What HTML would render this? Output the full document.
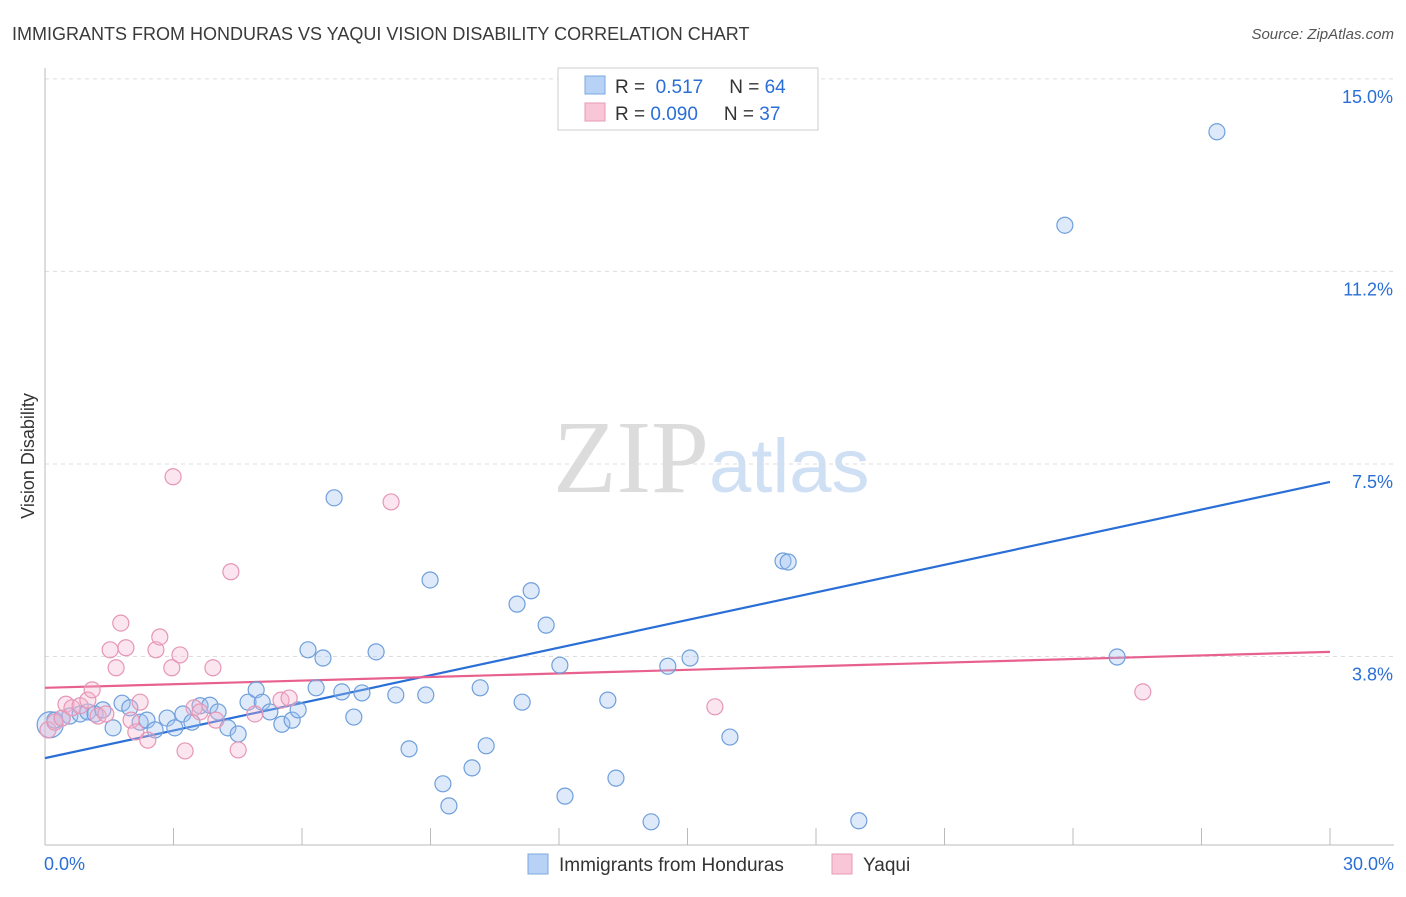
<!DOCTYPE html>
<html><head><meta charset="utf-8"><style>
body{margin:0;background:#fff;font-family:"Liberation Sans",sans-serif}
svg text{font-family:"Liberation Sans",sans-serif}
</style></head><body>
<svg id="chart" width="1406" height="892" viewBox="0 0 1406 892" xmlns="http://www.w3.org/2000/svg">
<text x="12" y="40" font-size="18" fill="#3a3a3a">IMMIGRANTS FROM HONDURAS VS YAQUI VISION DISABILITY CORRELATION CHART</text>
<text x="1394" y="39" font-size="15" fill="#555" text-anchor="end" font-style="italic">Source: ZipAtlas.com</text>
<text x="553" y="492" font-size="104"><tspan font-family="Liberation Serif" fill="#dcdcdc">ZIP</tspan><tspan fill="#cfe0f5" font-size="76">atlas</tspan></text>
<text transform="translate(34,456) rotate(-90)" font-size="18" fill="#333" text-anchor="middle">Vision Disability</text>
<g id="grid"></g><g id="axes"></g><g id="lines"></g><g id="pts"></g>
<g>
<rect x="558" y="68" width="260" height="62" fill="#fff" stroke="#ccc"/>
<rect x="585" y="76" width="20" height="18" fill="#b8d2f5" stroke="#7aa8e0"/>
<text x="615" y="93" font-size="19" fill="#333">R = <tspan fill="#2a6fd6">&#160;0.517</tspan><tspan dx="26" fill="#333">N = </tspan><tspan fill="#2a6fd6">64</tspan></text>
<rect x="585" y="103" width="20" height="18" fill="#f8c6d6" stroke="#e89ab8"/>
<text x="615" y="120" font-size="19" fill="#333">R = <tspan fill="#2a6fd6">0.090</tspan><tspan dx="26" fill="#333">N = </tspan><tspan fill="#2a6fd6">37</tspan></text>
</g>
<g>
<rect x="528" y="854" width="20" height="20" fill="#b8d2f5" stroke="#7aa8e0"/>
<text x="559" y="871" font-size="19" fill="#333">Immigrants from Honduras</text>
<rect x="832" y="854" width="20" height="20" fill="#f8c6d6" stroke="#e89ab8"/>
<text x="863" y="871" font-size="19" fill="#333">Yaqui</text>
</g>
</svg>
<script>
const yTicks=[3.75,7.5,11.25,15];
const yTickLabels=["3.8%","7.5%","11.2%","15.0%"];
const xTickLabels=["0.0%","30.0%"];
const blueX=[0.12,0.23,0.40,0.58,0.82,1.00,1.17,1.35,1.59,1.80,1.98,2.22,2.38,2.57,2.85,3.03,3.22,3.43,3.62,3.85,4.04,4.27,4.51,4.74,4.93,5.07,5.25,5.53,5.77,5.91,6.14,6.33,6.49,6.75,6.93,7.21,7.40,7.73,8.19,8.50,8.89,8.99,9.29,9.43,9.97,10.16,10.30,11.02,11.14,11.35,11.70,12.02,12.14,13.14,13.33,14.15,14.54,15.06,15.99,17.23,17.35,19.00,23.81,25.03,27.36];
const blueY=[2.42,2.51,2.55,2.59,2.63,2.67,2.63,2.71,2.36,2.84,2.75,2.47,2.51,2.32,2.55,2.36,2.63,2.47,2.79,2.80,2.67,2.36,2.24,2.86,3.10,2.86,2.67,2.43,2.51,2.71,3.88,3.14,3.72,6.84,3.06,2.57,3.04,3.84,3.00,1.95,3.00,5.24,1.27,0.84,1.58,3.14,2.01,4.77,2.86,5.03,4.36,3.58,1.03,2.90,1.38,0.53,3.56,3.72,2.18,5.61,5.59,0.55,12.15,3.74,13.97];
const pinkX=[0.07,0.23,0.40,0.49,0.63,0.82,1.00,1.10,1.24,1.42,1.52,1.66,1.77,1.89,2.01,2.12,2.22,2.40,2.59,2.68,2.96,2.99,3.15,3.27,3.48,3.62,3.92,3.99,4.34,4.51,4.90,5.51,5.70,8.08,15.64,25.63];
const pinkY=[2.32,2.47,2.55,2.82,2.75,2.79,2.90,3.10,2.59,2.63,3.88,3.53,4.40,3.92,2.51,2.28,2.86,2.12,3.88,4.13,3.53,7.25,3.78,1.91,2.75,2.67,3.53,2.51,5.40,1.93,2.63,2.90,2.94,6.76,2.77,3.06];
const blueLine=[1.77,7.15];
const pinkLine=[3.14,3.84];
const NS="http://www.w3.org/2000/svg";
const X=v=>45+v/30*1285, Y=v=>849-v*51.34;
function mk(p,t,a){const e=document.createElementNS(NS,t);for(const k in a)e.setAttribute(k,a[k]);p.appendChild(e);return e;}
const grid=document.getElementById('grid'),axes=document.getElementById('axes'),lines=document.getElementById('lines'),pts=document.getElementById('pts');
yTicks.forEach((t,i)=>{
 const l=mk(grid,'line',{x1:45,x2:1394,y1:Y(t),y2:Y(t),stroke:'#ddd','stroke-dasharray':'4,4'});
 
 
 const tx=mk(grid,'text',{x:1393,y:Y(t)+24,'font-size':18,fill:'#2a6fd6','text-anchor':'end'});tx.textContent=yTickLabels[i];
 
 
});
const al=mk(axes,'line',{x1:45,x2:45,y1:68,y2:845,stroke:'#bbb'});


const bl=mk(axes,'line',{x1:45,x2:1394,y1:845,y2:845,stroke:'#bbb'});


for(let i=0;i<=10;i++){const v=i*3;const t=mk(axes,'line',{x1:X(v),x2:X(v),y1:828,y2:845,stroke:'#bbb'});
 
 }
[[0,'start',44],[30,'end',1394]].forEach((d,i)=>{const t=mk(axes,'text',{x:d[2],y:870,'font-size':18,fill:'#2a6fd6','text-anchor':d[1]});t.textContent=xTickLabels[i];
 
 });
function series(xs,ys,fill,stroke,name){xs.forEach((x,i)=>{const c=mk(pts,'circle',{cx:X(x),cy:Y(ys[i]),r:(i==0&&name=='blue-point')?13:8,fill:fill,stroke:stroke,'stroke-width':1.2});
 
 });}
series(blueX,blueY,'rgba(160,196,240,0.35)','#6f9fdc','blue-point');
series(pinkX,pinkY,'rgba(244,180,205,0.35)','#e696b6','pink-point');
const b=mk(lines,'line',{x1:X(0),y1:Y(blueLine[0]),x2:X(30),y2:Y(blueLine[1]),stroke:'#2a6fd6','stroke-width':2.2});


const p=mk(lines,'line',{x1:X(0),y1:Y(pinkLine[0]),x2:X(30),y2:Y(pinkLine[1]),stroke:'#e8608e','stroke-width':2.2});


</script>
</body></html>
